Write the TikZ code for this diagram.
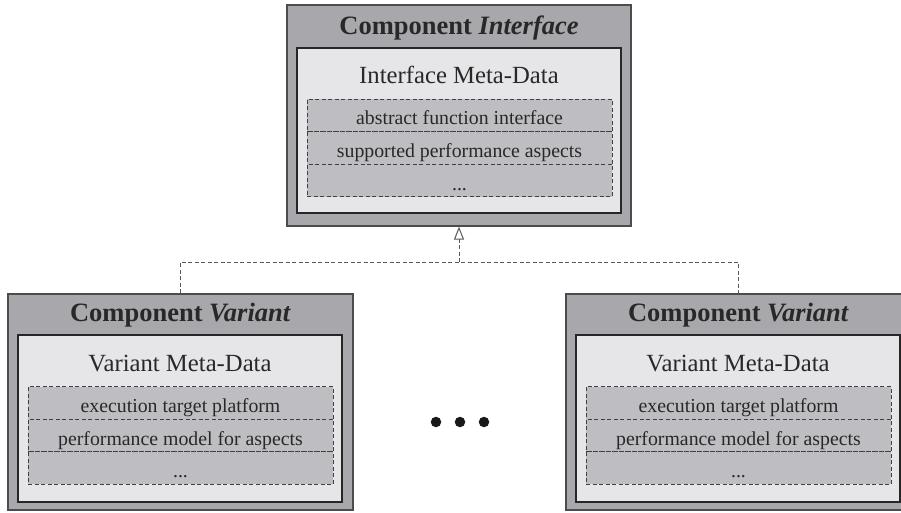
\documentclass[tikz,border=0pt]{standalone}
\usepackage{fontspec}
\setmainfont{Liberation Serif}
\usetikzlibrary{arrows.meta}
\definecolor{outerfill}{RGB}{168,168,172}
\definecolor{innerfill}{RGB}{230,230,232}
\definecolor{rowfill}{RGB}{190,190,194}
\definecolor{txt}{RGB}{40,40,40}
\tikzset{
  outerbox/.style={draw=black!70, line width=1.2pt, fill=outerfill, inner sep=0pt},
  innerbox/.style={draw=black!85, line width=1.1pt, fill=innerfill, inner sep=0pt},
  rowbox/.style={draw=black!75, line width=0.9pt, dash pattern=on 4pt off 2.5pt, fill=rowfill, inner sep=0pt, minimum width=305pt, minimum height=32.7pt},
  titletxt/.style={anchor=base, text=txt, font=\fontsize{26.5}{28}\selectfont\bfseries, inner sep=0pt},
  metatxt/.style={anchor=base, text=txt, font=\fontsize{24.7}{26}\selectfont, inner sep=0pt},
  rowtxt/.style={anchor=base, text=txt, font=\fontsize{19.8}{21}\selectfont, inner sep=0pt},
  dep/.style={draw=black!65, line width=0.9pt, dash pattern=on 4pt off 2.5pt},
  dotmark/.style={circle, fill=black!90, inner sep=0pt, minimum size=10.5pt},
}
\begin{document}
\begin{tikzpicture}[x=1pt, y=-1pt]
\useasboundingbox (0,0) rectangle (901,513);
% --- Component Interface ---
\node[outerbox, minimum width=344pt, minimum height=221pt] (ci) at (459,115.5) {};
\node[innerbox, minimum width=324pt, minimum height=165pt] (cii) at (459,130.5) {};
\node[rowbox] (ci1) at (459.5,115.5) {};
\node[rowbox] (ci2) at (459.5,148) {};
\node[rowbox] (ci3) at (459.5,180.5) {};
\node[titletxt] (cit) at (459,34.5) {Component \textit{Interface}};
\node[metatxt] (cim) at (459,83.5) {Interface Meta-Data};
\node[rowtxt] (cit1) at (459.5,125) {abstract function interface};
\node[rowtxt] (cit2) at (459.5,157.5) {supported performance aspects};
\node[rowtxt] (cit3) at (459.5,190) {...};
% --- left Component Variant ---
\node[outerbox, minimum width=345pt, minimum height=216pt] (vl) at (180.5,402) {};
\node[innerbox, minimum width=324pt, minimum height=167pt] (vli) at (180,418.5) {};
\node[rowbox] (vl1) at (180.5,403) {};
\node[rowbox] (vl2) at (180.5,435.5) {};
\node[rowbox] (vl3) at (180.5,468) {};
\node[titletxt] (vlt) at (180.5,321.5) {Component \textit{Variant}};
\node[metatxt] (vlm) at (180,371.5) {Variant Meta-Data};
\node[rowtxt] (vlt1) at (180.5,412.5) {execution target platform};
\node[rowtxt] (vlt2) at (180.5,445) {performance model for aspects};
\node[rowtxt] (vlt3) at (180.5,477.5) {...};
% --- right Component Variant ---
\node[outerbox, minimum width=345pt, minimum height=216pt] (vr) at (738.5,402) {};
\node[innerbox, minimum width=324pt, minimum height=167pt] (vri) at (738,418.5) {};
\node[rowbox] (vr1) at (738.5,403) {};
\node[rowbox] (vr2) at (738.5,435.5) {};
\node[rowbox] (vr3) at (738.5,468) {};
\node[titletxt] (vrt) at (738.5,321.5) {Component \textit{Variant}};
\node[metatxt] (vrm) at (738,371.5) {Variant Meta-Data};
\node[rowtxt] (vrt1) at (738.5,412.5) {execution target platform};
\node[rowtxt] (vrt2) at (738.5,445) {performance model for aspects};
\node[rowtxt] (vrt3) at (738.5,477.5) {...};
% --- dots ---
\node[dotmark] (d1) at (436,422) {};
\node[dotmark] (d2) at (460,422) {};
\node[dotmark] (d3) at (484,422) {};
% --- connectors ---
\coordinate (j) at (459,262);
\draw[dep] (vl.north) |- (j) -| (vr.north);
\draw[dep, -{Triangle[open, length=13pt, width=10pt, line width=1pt, fill=white]}] (j) -- (ci.south);
\end{tikzpicture}
\end{document}
